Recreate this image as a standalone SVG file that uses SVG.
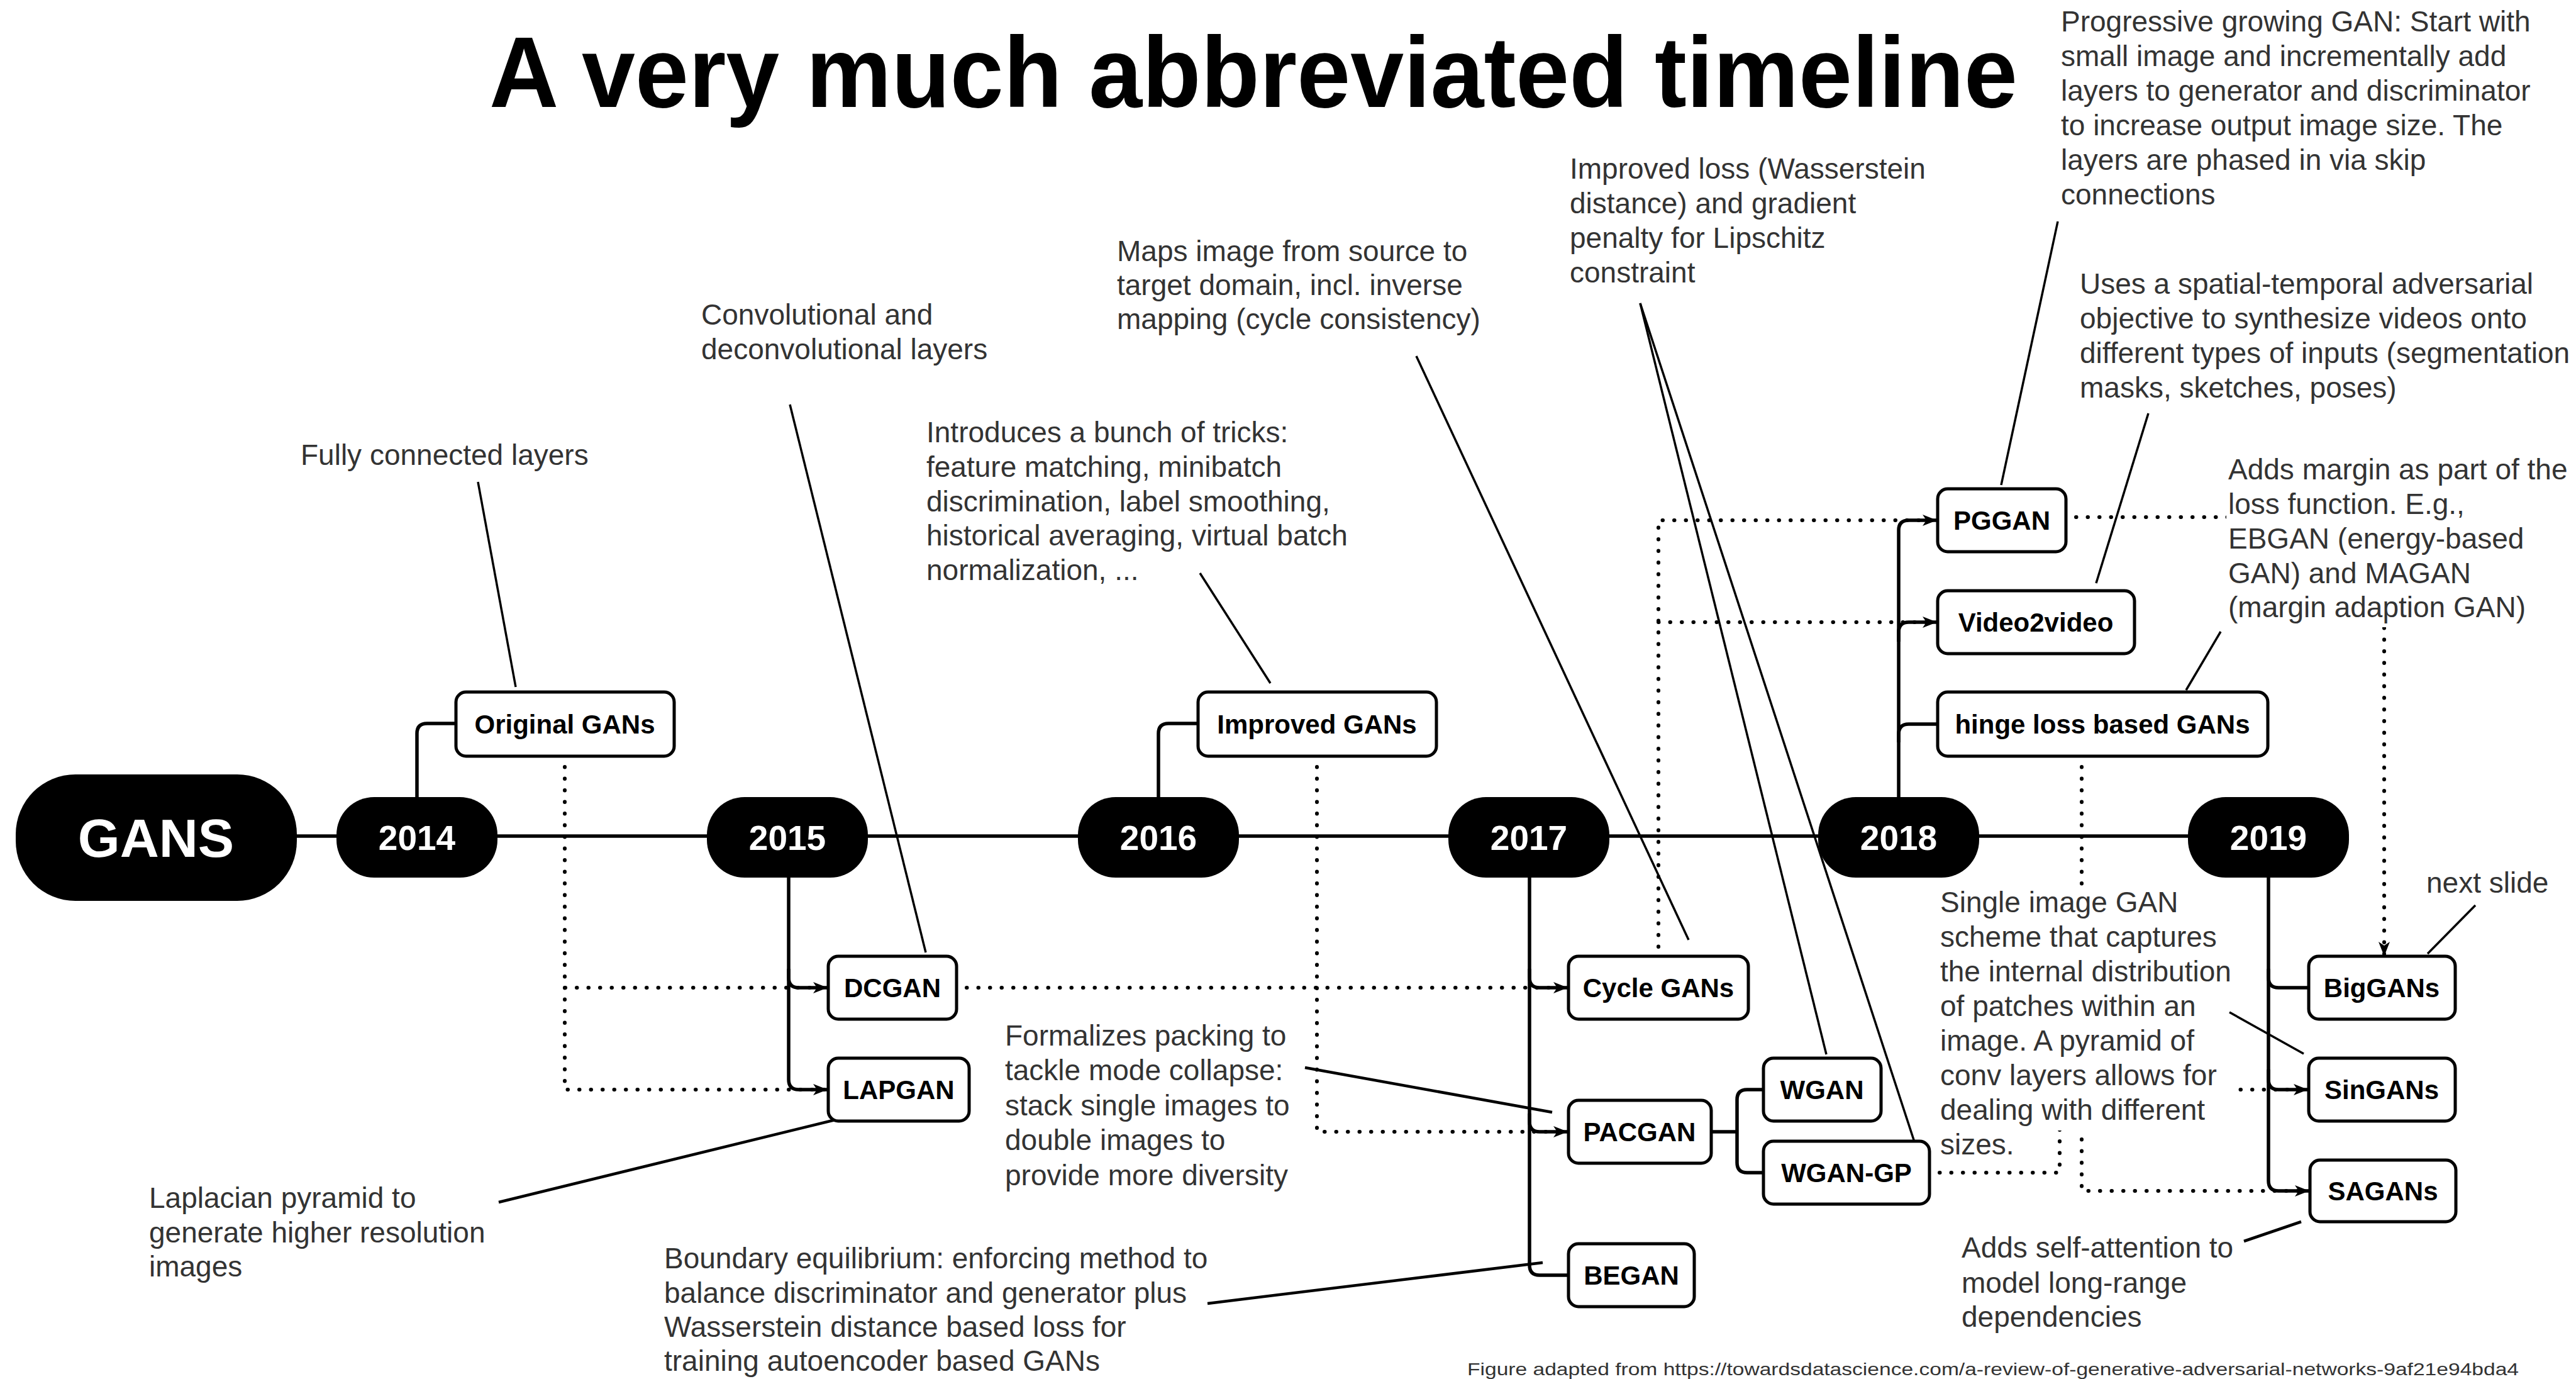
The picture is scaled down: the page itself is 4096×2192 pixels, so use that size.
<svg xmlns="http://www.w3.org/2000/svg" width="4096" height="2192" viewBox="0 0 4096 2192">
  <defs>
    <marker id="arrow" markerUnits="userSpaceOnUse" markerWidth="26" markerHeight="20" refX="22" refY="9" orient="auto">
      <path d="M0,0 L23,9 L0,18 L6,9 Z" fill="#000"/>
    </marker>
    <style>
      .title { font-family: "Liberation Sans", Arial, sans-serif; font-weight: bold; font-size: 160px; fill: #000; }
      .note { font-family: "Liberation Sans", Arial, sans-serif; font-size: 46px; fill: #333; }
      .foot { font-family: "Liberation Sans", Arial, sans-serif; font-size: 28px; fill: #333; }
      .pill { fill: #000; }
      .box { fill: #fff; stroke: #000; stroke-width: 5; }
      .yr { font-family: "Liberation Sans", Arial, sans-serif; font-weight: bold; font-size: 55px; fill: #fff; text-anchor: middle; }
      .root { font-family: "Liberation Sans", Arial, sans-serif; font-weight: bold; font-size: 86px; fill: #fff; text-anchor: middle; }
      .lbl { font-family: "Liberation Sans", Arial, sans-serif; font-weight: bold; font-size: 42px; fill: #000; text-anchor: middle; }
      .tree { fill: none; stroke: #000; stroke-width: 5.5; stroke-linejoin: round; }
      .dot { fill: none; stroke: #000; stroke-width: 6; stroke-linecap: round; stroke-dasharray: 0.5 18; }
      .lead { fill: none; stroke: #000; stroke-width: 3.5; }
      .lead2 { fill: none; stroke: #000; stroke-width: 4.5; }
      .mask { fill: #fff; }
    </style>
  </defs>

  <rect width="4096" height="2192" fill="#fff"/>

  <text class="title" x="778" y="170" textLength="2430" lengthAdjust="spacingAndGlyphs">A very much abbreviated timeline</text>

  <!-- connectors: timeline, branches and dotted influence links -->
  <g id="connectors">
    <path class="tree" d="M472,1329 H3480"/>
    <!-- 2014 -->
    <path class="tree" d="M663,1267 V1166 Q663,1150 679,1150 H725"/>
    <!-- 2015 -->
    <path class="tree" d="M1254,1395 V1554 Q1254,1570 1270,1570 H1317"/>
    <path class="tree" d="M1254,1540 V1716 Q1254,1732 1270,1732 H1317"/>
    <!-- 2016 -->
    <path class="tree" d="M1842,1267 V1166 Q1842,1150 1858,1150 H1905"/>
    <!-- 2017 -->
    <path class="tree" d="M2432,1395 V1554 Q2432,1570 2448,1570 H2494"/>
    <path class="tree" d="M2432,1540 V1783 Q2432,1799 2448,1799 H2494"/>
    <path class="tree" d="M2432,1770 V2011 Q2432,2027 2448,2027 H2494"/>
    <!-- PACGAN children -->
    <path class="tree" d="M2721,1799 H2762"/>
    <path class="tree" d="M2762,1799 V1748 Q2762,1732 2778,1732 H2804"/>
    <path class="tree" d="M2762,1799 V1848 Q2762,1864 2778,1864 H2804"/>
    <!-- 2018 -->
    <path class="tree" d="M3019,1267 V843 Q3019,827 3035,827 H3081"/>
    <path class="tree" d="M3019,1020 V1005 Q3019,989 3035,989 H3081"/>
    <path class="tree" d="M3019,1180 V1167 Q3019,1151 3035,1151 H3081"/>
    <!-- 2019 -->
    <path class="tree" d="M3607,1395 V1554 Q3607,1570 3623,1570 H3671"/>
    <path class="tree" d="M3607,1540 V1716 Q3607,1732 3623,1732 H3671"/>
    <path class="tree" d="M3607,1700 V1877 Q3607,1893 3623,1893 H3673"/>

    <!-- dotted influence links -->
    <path class="dot" d="M898,1219 V1570 H1315" marker-end="url(#arrow)"/>
    <path class="dot" d="M898,1570 V1732 H1315" marker-end="url(#arrow)"/>
    <path class="dot" d="M1537,1570 H2492" marker-end="url(#arrow)"/>
    <path class="dot" d="M2094,1219 V1799 H2492" marker-end="url(#arrow)"/>
    <path class="dot" d="M2637,1505 V827 H3079" marker-end="url(#arrow)"/>
    <path class="dot" d="M2637,989 H3079" marker-end="url(#arrow)"/>
    <path class="dot" d="M3301,822 H3791 V1519" marker-end="url(#arrow)"/>
    <path class="dot" d="M3310,1219 V1893 H3671" marker-end="url(#arrow)"/>
    <path class="dot" d="M3084,1864 H3275 V1732 H3669" marker-end="url(#arrow)"/>
  </g>

  <!-- opaque backgrounds of the text blocks that sit over links -->
  <rect class="mask" x="3540" y="715" width="640" height="282"/>
  <rect class="mask" x="3079" y="1408" width="470" height="389"/>

  <!-- leader lines from notes to nodes -->
  <g id="leaders">
    <path class="lead" d="M760,766 L820,1092"/>
    <path class="lead" d="M1256,643 L1472,1514"/>
    <path class="lead2" d="M793,1911 L1328,1780"/>
    <path class="lead" d="M1908,911 L2020,1086"/>
    <path class="lead" d="M2252,566 L2685,1494"/>
    <path class="lead" d="M2608,482 L2904,1676"/>
    <path class="lead" d="M2608,482 L3044,1815"/>
    <path class="lead2" d="M2075,1697 L2468,1768"/>
    <path class="lead2" d="M1920,2072 L2453,2007"/>
    <path class="lead" d="M3272,352 L3182,771"/>
    <path class="lead" d="M3416,657 L3333,927"/>
    <path class="lead" d="M3531,1004 L3476,1097"/>
    <path class="lead" d="M3545,1609 L3663,1675"/>
    <path class="lead" d="M3936,1439 L3860,1516"/>
    <path class="lead2" d="M3568,1973 L3659,1942"/>
  </g>

  <!-- nodes -->
  <g id="n-gans"><rect class="pill" x="25" y="1231" width="447" height="201" rx="95"/><text class="root" x="248" y="1362">GANS</text></g>
  <g id="n-2014"><rect class="pill" x="535" y="1267" width="256" height="128" rx="60"/><text class="yr" x="663" y="1351">2014</text></g>
  <g id="n-2015"><rect class="pill" x="1124" y="1267" width="256" height="128" rx="60"/><text class="yr" x="1252" y="1351">2015</text></g>
  <g id="n-2016"><rect class="pill" x="1714" y="1267" width="256" height="128" rx="60"/><text class="yr" x="1842" y="1351">2016</text></g>
  <g id="n-2017"><rect class="pill" x="2303" y="1267" width="256" height="128" rx="60"/><text class="yr" x="2431" y="1351">2017</text></g>
  <g id="n-2018"><rect class="pill" x="2891" y="1267" width="256" height="128" rx="60"/><text class="yr" x="3019" y="1351">2018</text></g>
  <g id="n-2019"><rect class="pill" x="3479" y="1267" width="256" height="128" rx="60"/><text class="yr" x="3607" y="1351">2019</text></g>

  <g id="n-original"><rect class="box" x="725" y="1100" width="347" height="102" rx="16"/><text class="lbl" x="898" y="1166">Original GANs</text></g>
  <g id="n-improved"><rect class="box" x="1905" y="1100" width="379" height="102" rx="16"/><text class="lbl" x="2094" y="1166">Improved GANs</text></g>
  <g id="n-hinge"><rect class="box" x="3081" y="1100" width="525" height="102" rx="16"/><text class="lbl" x="3343" y="1166">hinge loss based GANs</text></g>
  <g id="n-pggan"><rect class="box" x="3081" y="777" width="204" height="100" rx="16"/><text class="lbl" x="3183" y="842">PGGAN</text></g>
  <g id="n-video2video"><rect class="box" x="3081" y="939" width="313" height="100" rx="16"/><text class="lbl" x="3237" y="1004">Video2video</text></g>
  <g id="n-dcgan"><rect class="box" x="1317" y="1520" width="204" height="100" rx="16"/><text class="lbl" x="1419" y="1585">DCGAN</text></g>
  <g id="n-lapgan"><rect class="box" x="1317" y="1682" width="224" height="100" rx="16"/><text class="lbl" x="1429" y="1747">LAPGAN</text></g>
  <g id="n-cycle"><rect class="box" x="2494" y="1520" width="286" height="100" rx="16"/><text class="lbl" x="2637" y="1585">Cycle GANs</text></g>
  <g id="n-pacgan"><rect class="box" x="2494" y="1749" width="227" height="100" rx="16"/><text class="lbl" x="2607" y="1814">PACGAN</text></g>
  <g id="n-began"><rect class="box" x="2494" y="1977" width="200" height="100" rx="16"/><text class="lbl" x="2594" y="2042">BEGAN</text></g>
  <g id="n-wgan"><rect class="box" x="2804" y="1682" width="187" height="100" rx="16"/><text class="lbl" x="2897" y="1747">WGAN</text></g>
  <g id="n-wgangp"><rect class="box" x="2804" y="1814" width="264" height="100" rx="16"/><text class="lbl" x="2936" y="1879">WGAN-GP</text></g>
  <g id="n-biggans"><rect class="box" x="3671" y="1520" width="233" height="100" rx="16"/><text class="lbl" x="3787" y="1585">BigGANs</text></g>
  <g id="n-singans"><rect class="box" x="3671" y="1682" width="233" height="100" rx="16"/><text class="lbl" x="3787" y="1747">SinGANs</text></g>
  <g id="n-sagans"><rect class="box" x="3673" y="1844" width="232" height="98" rx="16"/><text class="lbl" x="3789" y="1908">SAGANs</text></g>

  <!-- notes -->
  <g id="notes">
    <text class="note" x="478" y="739">Fully connected layers</text>
    <text class="note" x="1115"><tspan x="1115" y="516">Convolutional and</tspan><tspan x="1115" y="571">deconvolutional layers</tspan></text>
    <text class="note"><tspan x="1473" y="703">Introduces a bunch of tricks:</tspan><tspan x="1473" y="758">feature matching, minibatch</tspan><tspan x="1473" y="813">discrimination, label smoothing,</tspan><tspan x="1473" y="867">historical averaging, virtual batch</tspan><tspan x="1473" y="922">normalization, ...</tspan></text>
    <text class="note"><tspan x="1776" y="415">Maps image from source to</tspan><tspan x="1776" y="469">target domain, incl. inverse</tspan><tspan x="1776" y="523">mapping (cycle consistency)</tspan></text>
    <text class="note"><tspan x="2496" y="284">Improved loss (Wasserstein</tspan><tspan x="2496" y="339">distance) and gradient</tspan><tspan x="2496" y="394">penalty for Lipschitz</tspan><tspan x="2496" y="449">constraint</tspan></text>
    <text class="note"><tspan x="3277" y="50">Progressive growing GAN: Start with</tspan><tspan x="3277" y="105">small image and incrementally add</tspan><tspan x="3277" y="160">layers to generator and discriminator</tspan><tspan x="3277" y="215">to increase output image size. The</tspan><tspan x="3277" y="270">layers are phased in via skip</tspan><tspan x="3277" y="325">connections</tspan></text>
    <text class="note"><tspan x="3307" y="467">Uses a spatial-temporal adversarial</tspan><tspan x="3307" y="522">objective to synthesize videos onto</tspan><tspan x="3307" y="577">different types of inputs (segmentation</tspan><tspan x="3307" y="632">masks, sketches, poses)</tspan></text>
    <text class="note"><tspan x="3543" y="762">Adds margin as part of the</tspan><tspan x="3543" y="817">loss function. E.g.,</tspan><tspan x="3543" y="872">EBGAN (energy-based</tspan><tspan x="3543" y="927">GAN) and MAGAN</tspan><tspan x="3543" y="981">(margin adaption GAN)</tspan></text>
    <text class="note" x="3858" y="1419">next slide</text>
    <text class="note"><tspan x="3085" y="1450">Single image GAN</tspan><tspan x="3085" y="1505">scheme that captures</tspan><tspan x="3085" y="1560">the internal distribution</tspan><tspan x="3085" y="1615">of patches within an</tspan><tspan x="3085" y="1670">image. A pyramid of</tspan><tspan x="3085" y="1725">conv layers allows for</tspan><tspan x="3085" y="1780">dealing with different</tspan><tspan x="3085" y="1835">sizes.</tspan></text>
    <text class="note"><tspan x="1598" y="1662">Formalizes packing to</tspan><tspan x="1598" y="1717">tackle mode collapse:</tspan><tspan x="1598" y="1773">stack single images to</tspan><tspan x="1598" y="1828">double images to</tspan><tspan x="1598" y="1884">provide more diversity</tspan></text>
    <text class="note"><tspan x="237" y="1920">Laplacian pyramid to</tspan><tspan x="237" y="1975">generate higher resolution</tspan><tspan x="237" y="2029">images</tspan></text>
    <text class="note"><tspan x="1056" y="2016">Boundary equilibrium: enforcing method to</tspan><tspan x="1056" y="2071">balance discriminator and generator plus</tspan><tspan x="1056" y="2125">Wasserstein distance based loss for</tspan><tspan x="1056" y="2179">training autoencoder based GANs</tspan></text>
    <text class="note"><tspan x="3119" y="1999">Adds self-attention to</tspan><tspan x="3119" y="2055">model long-range</tspan><tspan x="3119" y="2109">dependencies</tspan></text>
    <text class="foot" x="2333" y="2186" textLength="1672" lengthAdjust="spacingAndGlyphs">Figure adapted from https://towardsdatascience.com/a-review-of-generative-adversarial-networks-9af21e94bda4</text>
  </g>
</svg>
